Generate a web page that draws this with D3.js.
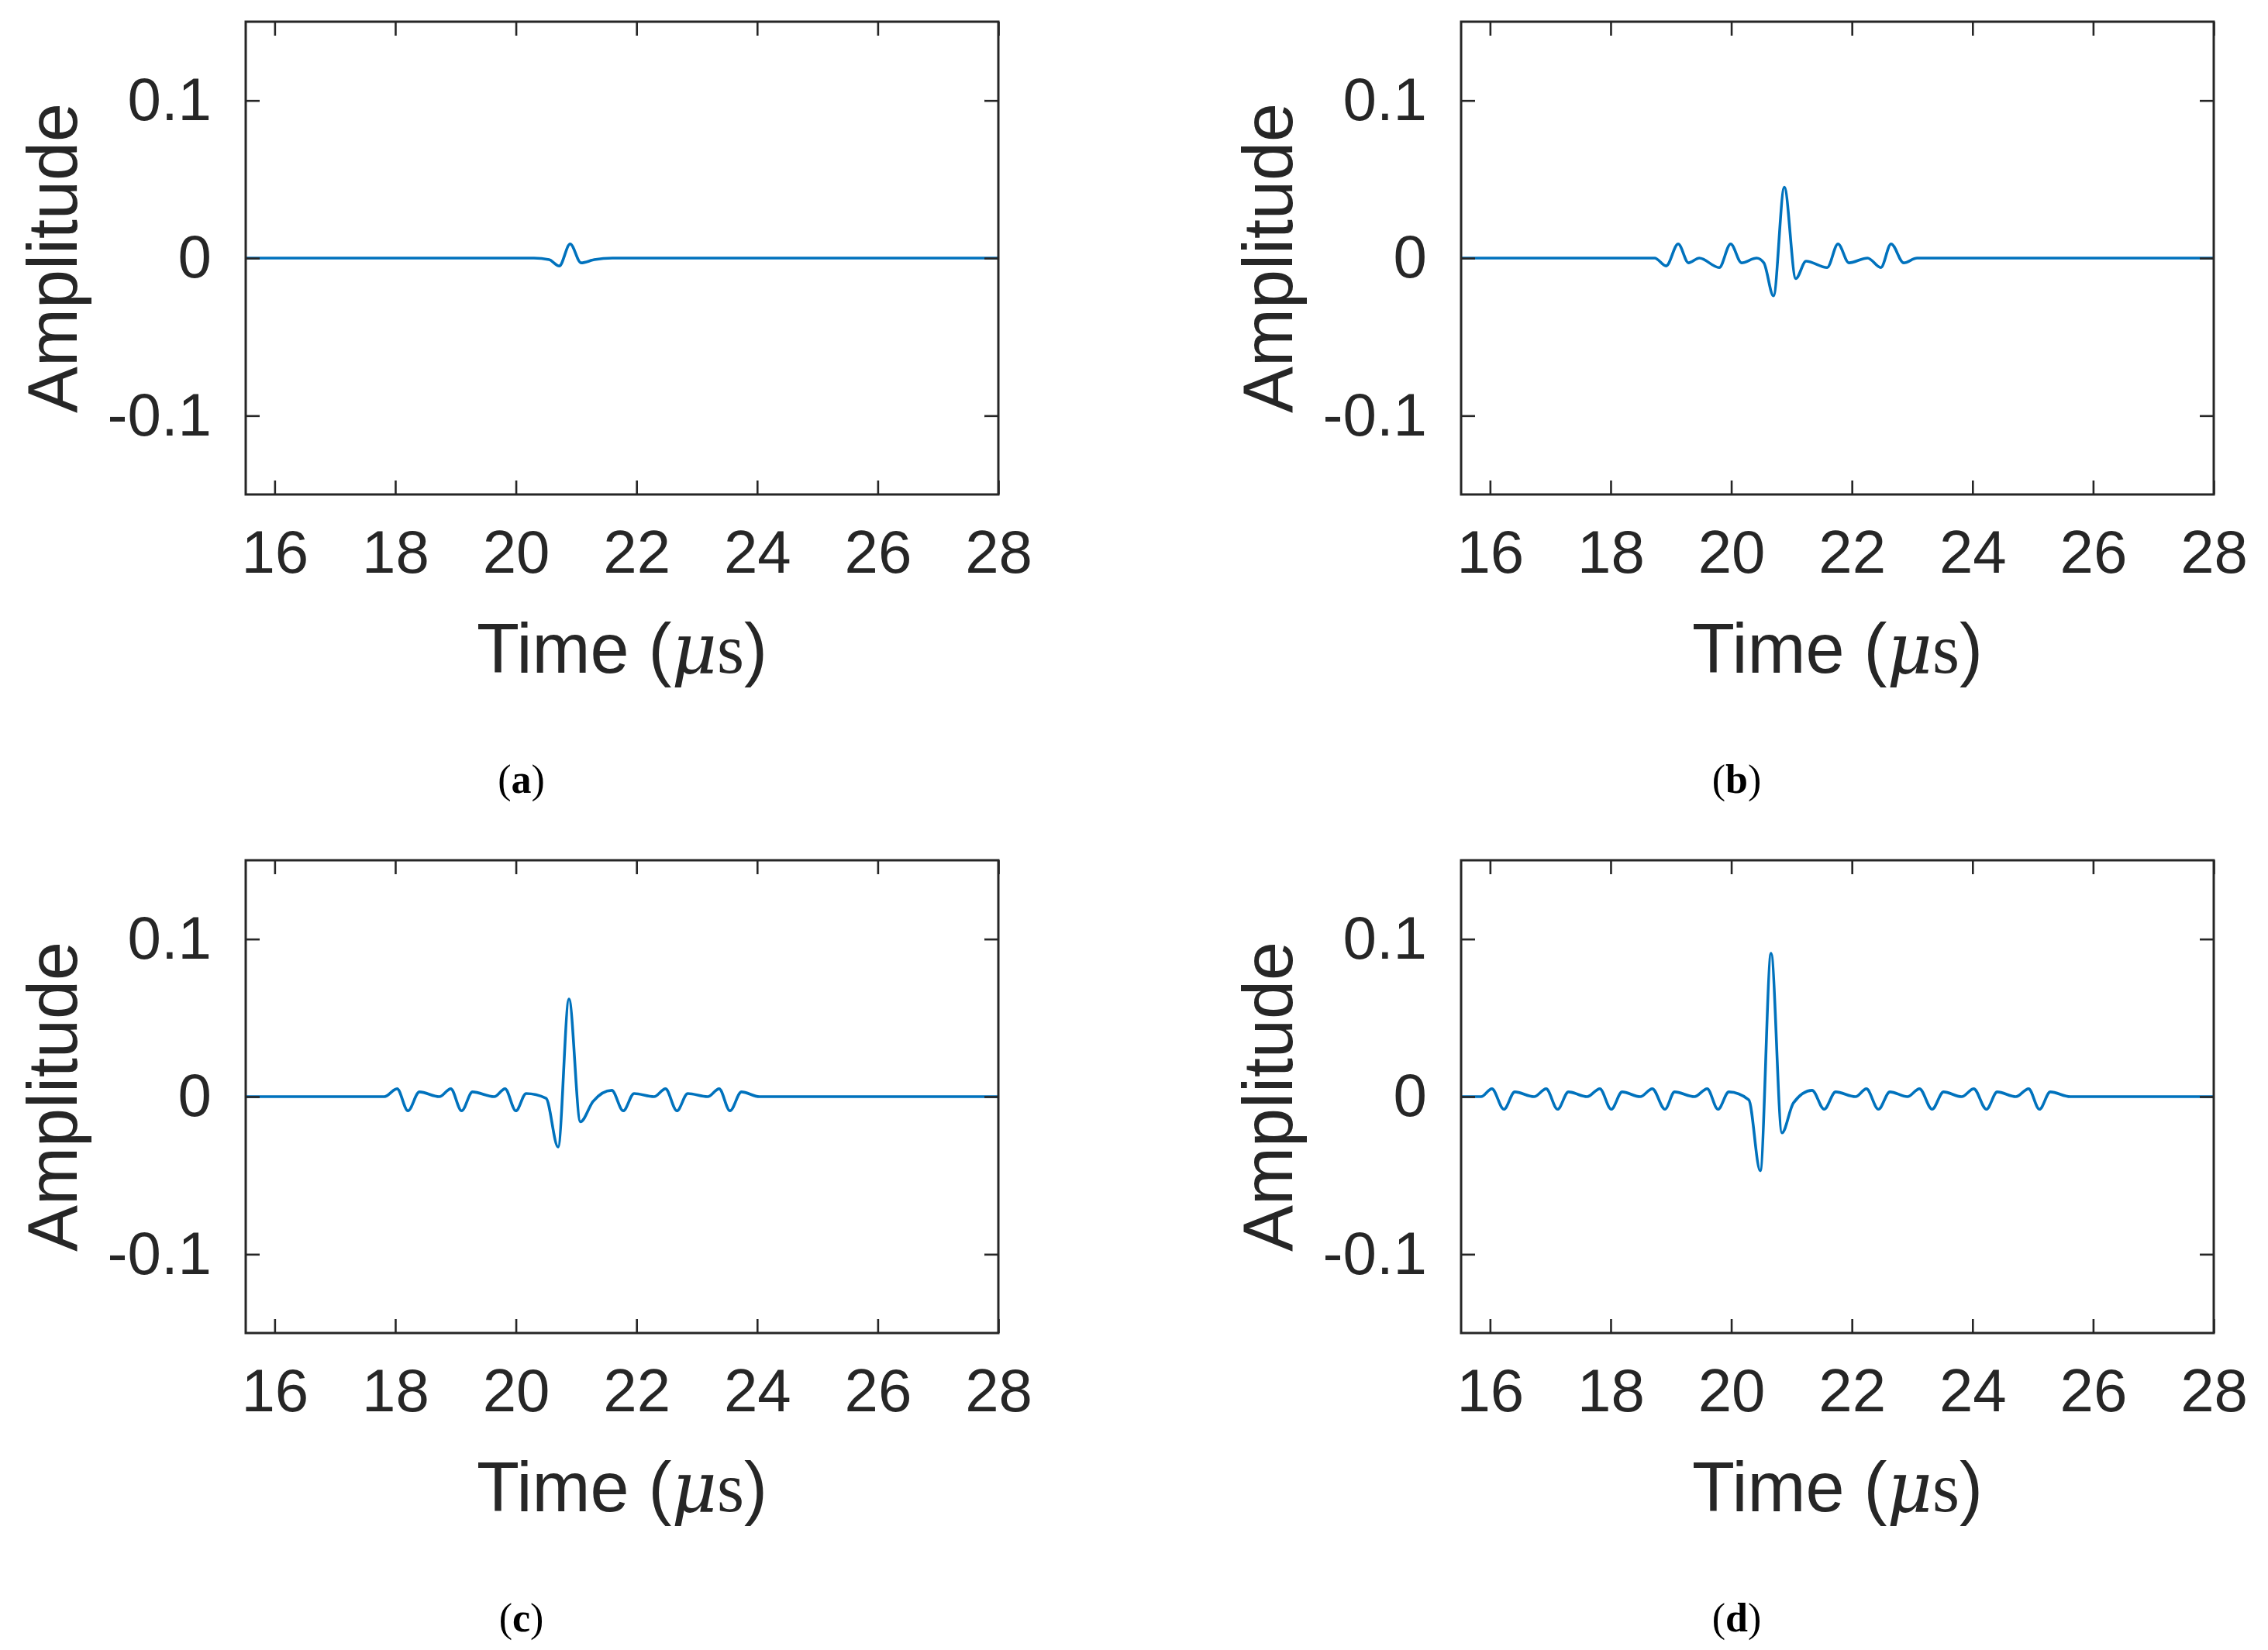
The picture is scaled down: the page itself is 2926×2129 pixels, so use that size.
<!DOCTYPE html>
<html>
<head>
<meta charset="utf-8">
<script src="https://cdn.jsdelivr.net/npm/d3@7"></script>
<style>
  body { margin: 0; background: #fff; }
  text { font-family: "Liberation Sans", Arial, sans-serif; fill: #262626; }
</style>
</head>
<body>
<svg id="fig" width="2926" height="2129"></svg>
<script>
// values: [time (us), amplitude]
const waveA = [[15.52,0],[20.3,0],[20.55,-0.001],[20.72,-0.005],[20.9,0.009],[21.08,-0.003],[21.3,-0.001],[21.6,0],[28,0]];
const waveB = [[15.52,0],[18.73,0],[18.92,-0.005],[19.12,0.009],[19.29,-0.003],[19.47,0],[19.8,-0.006],[19.99,0.009],
  [20.17,-0.003],[20.42,0],[20.54,-0.003],[20.7,-0.024],[20.88,0.045],[21.07,-0.013],[21.24,-0.002],[21.59,-0.006],
  [21.77,0.009],[21.95,-0.003],[22.26,0],[22.48,-0.006],[22.65,0.009],[22.86,-0.003],[23.08,0],[28,0]];
const waveC = [[15.52,0],[17.82,0],[18.03,0.005],[18.21,-0.009],[18.4,0.003],[18.73,0],[18.92,0.005],[19.1,-0.009],
  [19.28,0.003],[19.64,0],[19.82,0.005],[20.0,-0.009],[20.17,0.002],[20.5,-0.001],[20.7,-0.032],[20.88,0.062],
  [21.07,-0.016],[21.28,-0.003],[21.59,0.004],[21.78,-0.009],[21.96,0.002],[22.29,0],[22.48,0.005],[22.67,-0.009],
  [22.85,0.002],[23.18,0],[23.37,0.005],[23.55,-0.009],[23.74,0.003],[24.04,0],[28,0]];
const waveD = [[15.52,0],[15.85,0],[16.03,0.005],[16.23,-0.008],[16.41,0.003],[16.73,0],[16.93,0.005],[17.12,-0.008],
  [17.3,0.003],[17.61,0],[17.82,0.005],[18.01,-0.008],[18.19,0.003],[18.49,0],[18.69,0.005],[18.9,-0.008],
  [19.06,0.003],[19.39,0],[19.6,0.005],[19.78,-0.008],[19.96,0.003],[20.29,-0.002],[20.48,-0.047],[20.66,0.091],
  [20.84,-0.023],[21.03,-0.004],[21.34,0.004],[21.54,-0.008],[21.73,0.003],[22.06,0],[22.24,0.005],[22.44,-0.008],
  [22.63,0.003],[22.92,0],[23.12,0.005],[23.33,-0.008],[23.52,0.003],[23.82,0],[24.02,0.005],[24.23,-0.008],
  [24.41,0.003],[24.72,0],[24.93,0.005],[25.11,-0.008],[25.29,0.003],[25.62,0],[28,0]];
const xTicks = [16,18,20,22,24,26,28];
const yTicks = [-0.1,0,0.1];
const yTickLabels = ["-0.1","0","0.1"];
const captions = ["a","b","c","d"];

const panels = [
  {data: waveA, left: 317, top: 28, cap: 0},
  {data: waveB, left: 1885, top: 28, cap: 1},
  {data: waveC, left: 317, top: 1110, cap: 2},
  {data: waveD, left: 1885, top: 1110, cap: 3}
];
const pw = 971, ph = 610;
const axisColor = "#262626";
const svg = d3.select("#fig");

panels.forEach(p => {
  const g = svg.append("g").attr("transform", `translate(${p.left},${p.top})`);
  const x = d3.scaleLinear().domain([15.52, 28]).range([0, pw]);
  const y = d3.scaleLinear().domain([-0.15, 0.15]).range([ph, 0]);

  // curve
  const line = d3.line().curve(d3.curveMonotoneX).x(d => x(d[0])).y(d => y(d[1]));
  g.append("path").datum(p.data).attr("d", line)
    .attr("fill", "none").attr("stroke", "#0072BD").attr("stroke-width", 3.6)
    .attr("stroke-linejoin", "round");

  // axes, MATLAB style: ticks inward on all sides
  const tl = 18;
  const styleAxis = sel => {
    sel.select(".domain").remove();
    sel.selectAll("line").attr("stroke", axisColor).attr("stroke-width", 2.6);
  };
  g.append("g").attr("transform", `translate(0,${ph})`)
    .call(d3.axisBottom(x).tickValues(xTicks).tickSize(-tl).tickPadding(46))
    .call(styleAxis)
    .selectAll("text").attr("font-size", 78).attr("fill", axisColor)
    .attr("font-family", "Liberation Sans, Arial, sans-serif");
  g.append("g")
    .call(d3.axisTop(x).tickValues(xTicks).tickSize(-tl).tickFormat(""))
    .call(styleAxis);
  g.append("g")
    .call(d3.axisLeft(y).tickValues(yTicks).tickSize(-tl).tickPadding(44)
      .tickFormat((d, i) => yTickLabels[i]))
    .call(styleAxis)
    .selectAll("text").attr("font-size", 78).attr("fill", axisColor)
    .attr("font-family", "Liberation Sans, Arial, sans-serif");
  g.append("g").attr("transform", `translate(${pw},0)`)
    .call(d3.axisRight(y).tickValues(yTicks).tickSize(-tl).tickFormat(""))
    .call(styleAxis);
  g.append("rect").attr("width", pw).attr("height", ph)
    .attr("fill", "none").attr("stroke", axisColor).attr("stroke-width", 3);

  // labels
  const xl = g.append("text").attr("x", pw / 2).attr("y", ph + 230)
    .attr("text-anchor", "middle").attr("font-size", 90);
  xl.append("tspan").text("Time (");
  xl.append("tspan").text("μ").attr("font-family", "DejaVu Serif, serif").attr("font-style", "italic");
  xl.append("tspan").text("s").attr("font-family", "Liberation Serif, serif");
  xl.append("tspan").text(")");
  g.append("text").attr("transform", `translate(-218,${ph / 2}) rotate(-90)`)
    .attr("text-anchor", "middle").attr("font-size", 90).text("Amplitude");

  const cap = g.append("text").attr("x", pw / 2 - 130).attr("y", ph + 385)
    .attr("text-anchor", "middle").attr("font-size", 52)
    .attr("font-family", "Liberation Serif, serif").style("font-family", "Liberation Serif, serif")
    .style("fill", "#000");
  cap.append("tspan").text("(");
  cap.append("tspan").attr("font-weight", "bold").text(captions[p.cap]);
  cap.append("tspan").text(")");
});
</script>
</body>
</html>
